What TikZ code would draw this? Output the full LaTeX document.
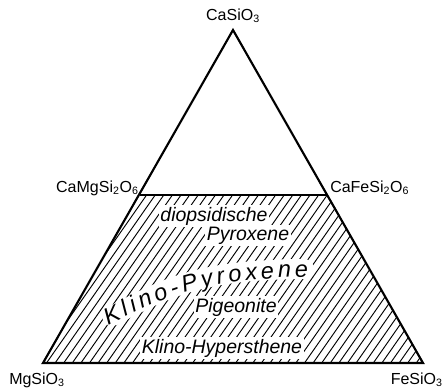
\documentclass[tikz,border=0pt]{standalone}
\usepackage{fontspec}
\setmainfont{Liberation Sans}
\usetikzlibrary{decorations.text}
\begin{document}
\begin{tikzpicture}[x=0.75pt,y=-0.75pt,
  edge/.style={line width=1.6pt,line join=miter},
  hatchline/.style={line width=0.7pt},
  vlabel/.style={inner sep=0pt,font=\fontsize{12}{14}\selectfont},
  phase/.style={fill=white,inner sep=1.2pt,font=\fontsize{14.6}{16}\selectfont\itshape},
  clearband/.style={white,line width=15pt,line cap=round}]
\useasboundingbox (0,0) rectangle (445,390);
% vertices
\coordinate (A) at (233,30);
\coordinate (B) at (43,363);
\coordinate (C) at (423,363);
\coordinate (M1) at (140,195);
\coordinate (M2) at (328,195);
% curve for the bent label
\coordinate (K1) at (108,325);
\coordinate (K2) at (308,277);
\coordinate (K1b) at (112,316);
\coordinate (K2b) at (304,269);
% hatching
\begin{scope}
  \clip (M1) -- (M2) -- (C) -- (B) -- cycle;
  \foreach \i in {-25,...,50} {
    \draw[hatchline] ({\i*8.6-10},370) -- ++(125,-179);
  }
\end{scope}
% cleared band and bent label
\draw[clearband] (K1b) .. controls (170,286) and (200,270) .. (K2b);
\path[decorate,decoration={text along path,text align=fit to path,
  text={|\fontsize{17.5}{20}\selectfont\itshape|Klino-Pyroxene}}]
  (K1) .. controls (170,295) and (200,279) .. (K2);
% phase labels
\node[phase,anchor=base] (dio) at (214,221) {diopsidische};
\node[phase,anchor=base] (pyr) at (248,240) {Pyroxene};
\node[phase,anchor=base] (pig) at (236,312) {Pigeonite};
\node[phase,anchor=base] (khy) at (222,353) {Klino-Hypersthene};
% outline
\draw[edge] (A) -- (B) -- (C) -- cycle;
\draw[edge] (M1) -- (M2);
% vertex labels
\node[vlabel,anchor=base] (lA) at (233,20) {CaSiO\textsubscript{3}};
\node[vlabel,anchor=base east] (lM1) at (139,192) {CaMgSi\textsubscript{2}O\textsubscript{6}};
\node[vlabel,anchor=base west] (lM2) at (330,192) {CaFeSi\textsubscript{2}O\textsubscript{6}};
\node[vlabel,anchor=base west] (lB) at (9,384) {MgSiO\textsubscript{3}};
\node[vlabel,anchor=base east] (lC) at (443,384) {FeSiO\textsubscript{3}};
\end{tikzpicture}
\end{document}
